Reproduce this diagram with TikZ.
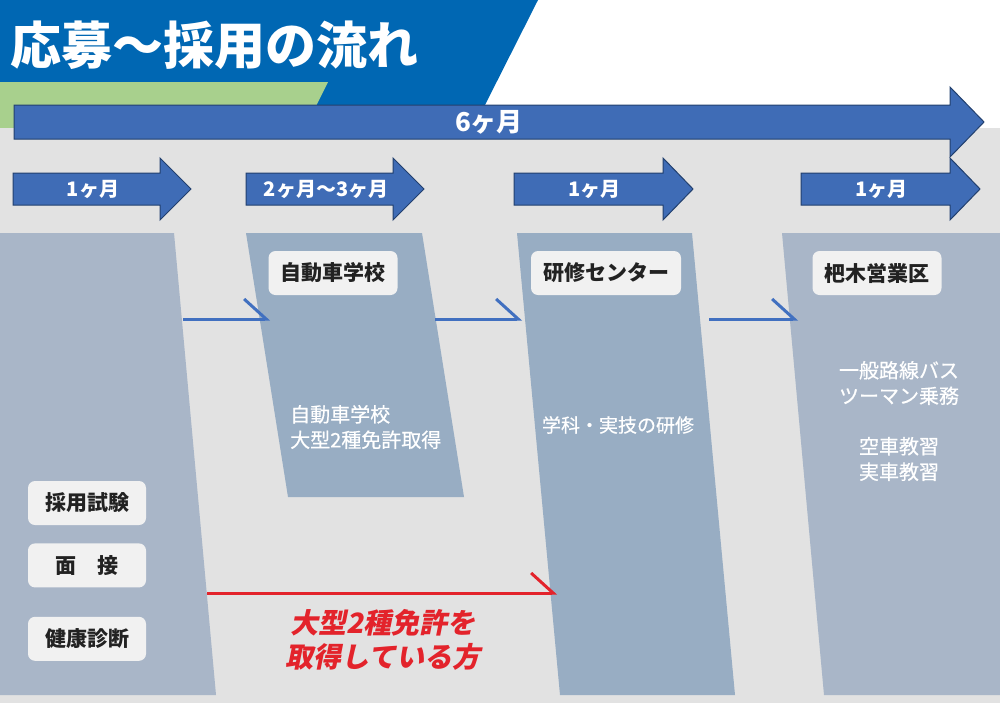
\documentclass[tikz,border=0pt]{standalone}
\usepackage{fontspec}
\setmainfont{Noto Sans CJK JP}
\newfontfamily\slantfont[FakeSlant=0.2]{Noto Sans CJK JP}
\newfontfamily\medfont[FakeBold=0.5]{Noto Sans CJK JP}
\usetikzlibrary{arrows.meta,positioning}

\definecolor{headblue}{HTML}{0067B3}
\definecolor{headgreen}{HTML}{A8D08D}
\definecolor{barblue}{HTML}{3F6CB6}
\definecolor{baredge}{HTML}{22406E}
\definecolor{bggray}{HTML}{E2E2E2}
\definecolor{stagelight}{HTML}{A9B6C8}
\definecolor{stagedark}{HTML}{98ADC3}
\definecolor{tagfill}{HTML}{F1F1F1}
\definecolor{tagtext}{HTML}{222222}
\definecolor{linkblue}{HTML}{4170C0}
\definecolor{linkred}{HTML}{E3232B}

\tikzset{
	period/.style={fill=barblue,draw=baredge,line width=1pt},
	monthtext/.style={text=white,inner sep=0pt,font=\bfseries\fontsize{20}{24}\selectfont},
	tagbox/.style={fill=tagfill,rounded corners=7pt,minimum height=44pt,inner xsep=12pt,text=tagtext,font=\bfseries\fontsize{21}{25}\selectfont},
	stagetext/.style={text=white,inner sep=0pt,font=\medfont\fontsize{20}{25.5}\selectfont},
	link/.style={line width=3pt,-{Straight Barb[harpoon,length=22pt,width=40pt]}},
}

\begin{document}
\begin{tikzpicture}[x=1pt,y=-1pt,node distance=18pt]
	\useasboundingbox (0,0) rectangle (1000,707);
	\fill[headblue] (0,0) -- (538,0) -- (485,105) -- (0,105) -- cycle;
	\fill[headgreen] (0,82) -- (328,82) -- (305,128) -- (0,128) -- cycle;
	\fill[bggray] (0,128) rectangle (1000,703);
	\node[text=white,font=\bfseries\fontsize{51}{60}\selectfont] (title) at (214,45) {応募～採用の流れ};

	\draw[period] (14,105) -- (950,105) -- (950,87) -- (984,122) -- (950,157) -- (950,139) -- (14,139) -- cycle;
	\node[monthtext,font=\bfseries\fontsize{26}{30}\selectfont] (total) at (489,122) {6ヶ月};
	\foreach \xa/\xb/\xt/\txt [count=\i] in {13/160/191/1ヶ月,246/393/424/2ヶ月～3ヶ月,514/663/693/1ヶ月,801/950/980/1ヶ月}{
		\draw[period] (\xa,173) -- (\xb,173) -- (\xb,158) -- (\xt,189) -- (\xb,220) -- (\xb,205) -- (\xa,205) -- cycle;
		\node[monthtext] (m\i) at ({(\xa+\xt)/2-9},189) {\txt};
	}

	\fill[stagelight] (0,233) -- (174,233) -- (216,695) -- (0,695) -- cycle;
	\fill[stagedark] (246,233) -- (422,233) -- (464,497) -- (288,497) -- cycle;
	\fill[stagedark] (517,233) -- (692,233) -- (735,695) -- (560,695) -- cycle;
	\fill[stagelight] (782,233) -- (1000,233) -- (1000,695) -- (824,695) -- cycle;

	\node[tagbox] (school) at (333,273) {自動車学校};
	\node[tagbox] (center) at (606,273) {研修センター};
	\node[tagbox] (office) at (877,273) {杷木営業区};
	\node[tagbox,minimum width=118pt] (exam) at (87,503) {採用試験};
	\node[tagbox,minimum width=118pt] (interview) [below=18pt of exam] {面　接};
	\node[tagbox,minimum width=118pt] (health) [below=29pt of interview] {健康診断};

	\node[stagetext,align=left,anchor=west] (license) at (290,427) {自動車学校\\大型2種免許取得};
	\node[stagetext,font=\medfont\fontsize{19}{24}\selectfont] (training) at (618,425) {学科・実技の研修};
	\node[stagetext,align=center] (duty) at (899,383) {一般路線バス\\ツーマン乗務};
	\node[stagetext,align=center] (drill) at (899,459) {空車教習\\実車教習};

	\coordinate (a1) at (183,319);
	\coordinate (a2) at (270,319);
	\coordinate (b1) at (435,319);
	\coordinate (b2) at (522,319);
	\coordinate (c1) at (709,319);
	\coordinate (c2) at (798,319);
	\coordinate (r1) at (207,593);
	\coordinate (r2) at (557,593);
	\path[link,linkblue] (a1) edge (a2);
	\path[link,linkblue] (b1) edge (b2);
	\path[link,linkblue] (c1) edge (c2);
	\path[link,linkred] (r1) edge (r2);

	\node[text=linkred,align=center,font=\slantfont\bfseries\fontsize{28}{34}\selectfont] (note) at (383,640) {大型2種免許を\\取得している方};
\end{tikzpicture}
\end{document}
